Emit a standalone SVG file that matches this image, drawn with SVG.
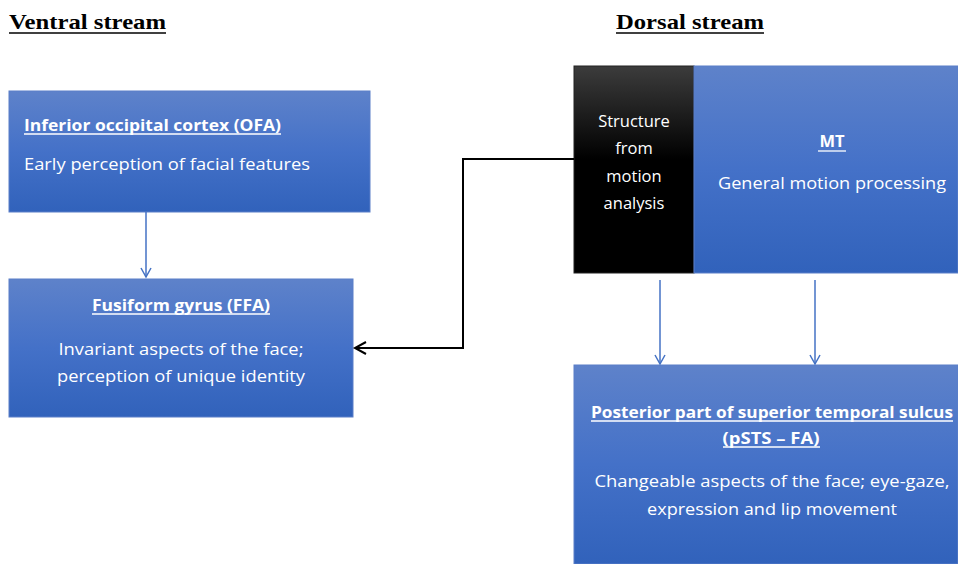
<svg xmlns="http://www.w3.org/2000/svg" width="958" height="564" viewBox="0 0 958 564">
<defs>
<linearGradient id="blue" x1="0" y1="0" x2="0" y2="1">
<stop offset="0" stop-color="#5e82ca"/>
<stop offset="0.5" stop-color="#4471c8"/>
<stop offset="1" stop-color="#3162bb"/>
</linearGradient>
<linearGradient id="black" x1="0" y1="0" x2="0" y2="1">
<stop offset="0" stop-color="#3c3c3c"/>
<stop offset="0.45" stop-color="#000"/>
<stop offset="1" stop-color="#000"/>
</linearGradient>
<marker id="ab" markerWidth="14" markerHeight="14" refX="10" refY="6" orient="auto" markerUnits="userSpaceOnUse">
<path d="M1,1 L10,6 L1,11" fill="none" stroke="#4472c4" stroke-width="1.5"/>
</marker>
<marker id="ak" markerWidth="16" markerHeight="16" refX="13" refY="7" orient="auto" markerUnits="userSpaceOnUse">
<path d="M2,1 L13,7 L2,13" fill="none" stroke="#000" stroke-width="2"/>
</marker>
</defs>
<style>
.box{fill:url(#blue);stroke:#5b7fc8;stroke-width:1}
.hd{font-family:"Liberation Serif","DejaVu Serif",serif;font-weight:bold;font-size:21px;fill:#000}
.t{font-family:"Open Sans","Noto Sans",sans-serif;font-size:16.5px;fill:#fff}
.tb{font-family:"Open Sans","Noto Sans",sans-serif;font-size:16.5px;font-weight:bold;fill:#fff}
.ul{stroke:#fff;stroke-width:1.3}
.c{text-anchor:middle}
</style>
<g id="header-ventral">
<text class="hd" x="9" y="29" textLength="157" lengthAdjust="spacingAndGlyphs">Ventral stream</text>
<line x1="9" y1="33" x2="166" y2="33" stroke="#000" stroke-width="1.5"/>
</g>
<g id="header-dorsal">
<text class="hd" x="616" y="29" textLength="148" lengthAdjust="spacingAndGlyphs">Dorsal stream</text>
<line x1="616" y1="33" x2="764" y2="33" stroke="#000" stroke-width="1.5"/>
</g>
<g id="ofa">
<rect class="box" x="9" y="91" width="361" height="121"/>
<text class="tb" x="24" y="131" textLength="257" lengthAdjust="spacingAndGlyphs">Inferior occipital cortex (OFA)</text>
<line class="ul" x1="24" y1="134" x2="281" y2="134"/>
<text class="t" x="24" y="170" textLength="286" lengthAdjust="spacingAndGlyphs">Early perception of facial features</text>
</g>
<g id="ffa">
<rect class="box" x="9" y="279" width="344" height="138"/>
<text class="tb c" x="181" y="311" textLength="178" lengthAdjust="spacingAndGlyphs">Fusiform gyrus (FFA)</text>
<line class="ul" x1="92" y1="314" x2="270" y2="314"/>
<text class="t c" x="181" y="355" textLength="245" lengthAdjust="spacingAndGlyphs">Invariant aspects of the face;</text>
<text class="t c" x="181" y="382" textLength="248" lengthAdjust="spacingAndGlyphs">perception of unique identity</text>
</g>
<g id="sfm">
<rect x="574" y="66" width="120" height="207" fill="url(#black)" stroke="#222" stroke-width="1"/>
<text class="t c" x="634" y="127">Structure</text>
<text class="t c" x="634" y="154">from</text>
<text class="t c" x="634" y="182">motion</text>
<text class="t c" x="634" y="209">analysis</text>
</g>
<g id="mt">
<rect class="box" x="694" y="66" width="264" height="207"/>
<text class="tb c" x="832" y="147">MT</text>
<line class="ul" x1="818" y1="151" x2="846" y2="151"/>
<text class="t c" x="832" y="189" textLength="228" lengthAdjust="spacingAndGlyphs">General motion processing</text>
</g>
<g id="psts">
<rect class="box" x="574" y="365" width="384" height="199"/>
<text class="tb c" x="772" y="418" textLength="362" lengthAdjust="spacingAndGlyphs">Posterior part of superior temporal sulcus</text>
<line class="ul" x1="591" y1="421" x2="953" y2="421"/>
<text class="tb c" x="771" y="444" textLength="97" lengthAdjust="spacingAndGlyphs">(pSTS – FA)</text>
<line class="ul" x1="723" y1="447" x2="820" y2="447"/>
<text class="t c" x="772" y="487" textLength="355" lengthAdjust="spacingAndGlyphs">Changeable aspects of the face; eye-gaze,</text>
<text class="t c" x="772" y="515" textLength="250" lengthAdjust="spacingAndGlyphs">expression and lip movement</text>
</g>
<g id="connectors" fill="none">
<line x1="146" y1="212" x2="146" y2="277" stroke="#4472c4" stroke-width="1.5" marker-end="url(#ab)"/>
<line x1="660" y1="280" x2="660" y2="364" stroke="#4472c4" stroke-width="1.5" marker-end="url(#ab)"/>
<line x1="815" y1="280" x2="815" y2="364" stroke="#4472c4" stroke-width="1.5" marker-end="url(#ab)"/>
<polyline points="574,159 463,159 463,348 355,348" stroke="#000" stroke-width="2" marker-end="url(#ak)"/>
</g>
</svg>
